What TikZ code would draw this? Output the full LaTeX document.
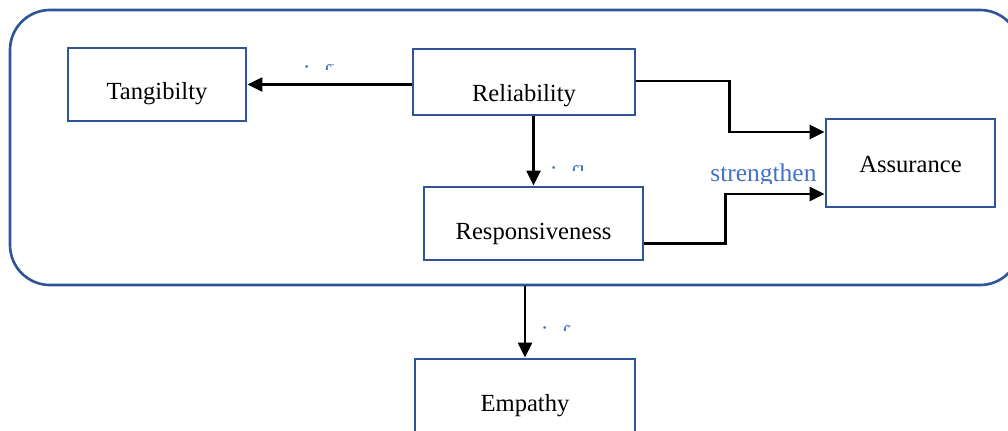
\documentclass[tikz,border=0pt]{standalone}
\usepackage{fontspec}
\setmainfont{Liberation Serif}
\usepackage{xcolor}
\usepackage{tikz}
\usetikzlibrary{arrows.meta,positioning,calc}
\definecolor{BoxBlue}{HTML}{2F5597}
\definecolor{LabelBlue}{HTML}{4472C4}

\begin{document}
\begin{tikzpicture}[
  box/.style={draw=BoxBlue,line width=1.6pt,fill=white,inner sep=0pt,text depth=0pt,align=center,font=\fontsize{14}{16}\selectfont},
  group/.style={draw=BoxBlue,line width=1.5pt,rounded corners=0.8cm,inner sep=0pt},
  lbl/.style={text=LabelBlue,inner sep=0pt,font=\fontsize{14.5}{16}\selectfont},
  arr/.style={-{Triangle[length=3mm,width=2.8mm]},line width=1.3pt,draw=black}
]
\useasboundingbox (0,0) rectangle (20.16,-8.6);
\node[group,minimum width=20.2cm,minimum height=5.5cm] (grp) at (10.3,-2.95) {};
\node[box,minimum width=3.56cm,minimum height=1.46cm,text height=0.58cm] (tang) at (3.14,-1.69) {Tangibilty};
\node[box,minimum width=4.44cm,minimum height=1.32cm,text height=0.76cm] (rel) at (10.48,-1.64) {Reliability};
\node[box,minimum width=4.38cm,minimum height=1.46cm,text height=0.62cm] (resp) at (10.67,-4.47) {Responsiveness};
\node[box,minimum width=3.38cm,minimum height=1.76cm,text height=0.36cm] (assur) at (18.21,-3.26) {Assurance};
\node[box,minimum width=4.4cm,minimum height=1.72cm,text height=0.36cm] (emp) at (10.5,-8.04) {Empathy};
% labels cut off by their text boxes
\begin{scope}
  \clip (5.9,-0.9) rectangle (6.66,-1.38);
  \node[lbl,anchor=base west] (inf1) at (6.06,-1.64) {influence};
\end{scope}
\begin{scope}
  \clip (10.8,-2.8) rectangle (11.64,-3.40);
  \node[lbl,anchor=base west] (inf2) at (11.0,-3.66) {influence};
\end{scope}
\begin{scope}
  \clip (10.6,-6.0) rectangle (11.40,-6.60);
  \node[lbl,anchor=base west] (inf3) at (10.82,-6.86) {influence};
\end{scope}
\begin{scope}
  \clip (14.0,-3.0) rectangle (16.5,-3.66);
  \node[lbl,anchor=base west] (str) at (14.2,-3.63) {strengthen};
\end{scope}
\draw[arr] (rel.west |- tang.east) -- (tang.east);
\draw[arr] (rel.south -| resp.north) -- (resp.north);
\draw[arr] ([yshift=0.02cm]rel.east) -- ++(1.86,0) |- ([yshift=0.62cm]assur.west);
\draw[arr] ([yshift=-0.4cm]resp.east) -- ++(1.62,0) |- ([yshift=-0.62cm]assur.west);
\draw[arr] (grp.south -| emp.north) -- (emp.north);
\end{tikzpicture}
\end{document}
